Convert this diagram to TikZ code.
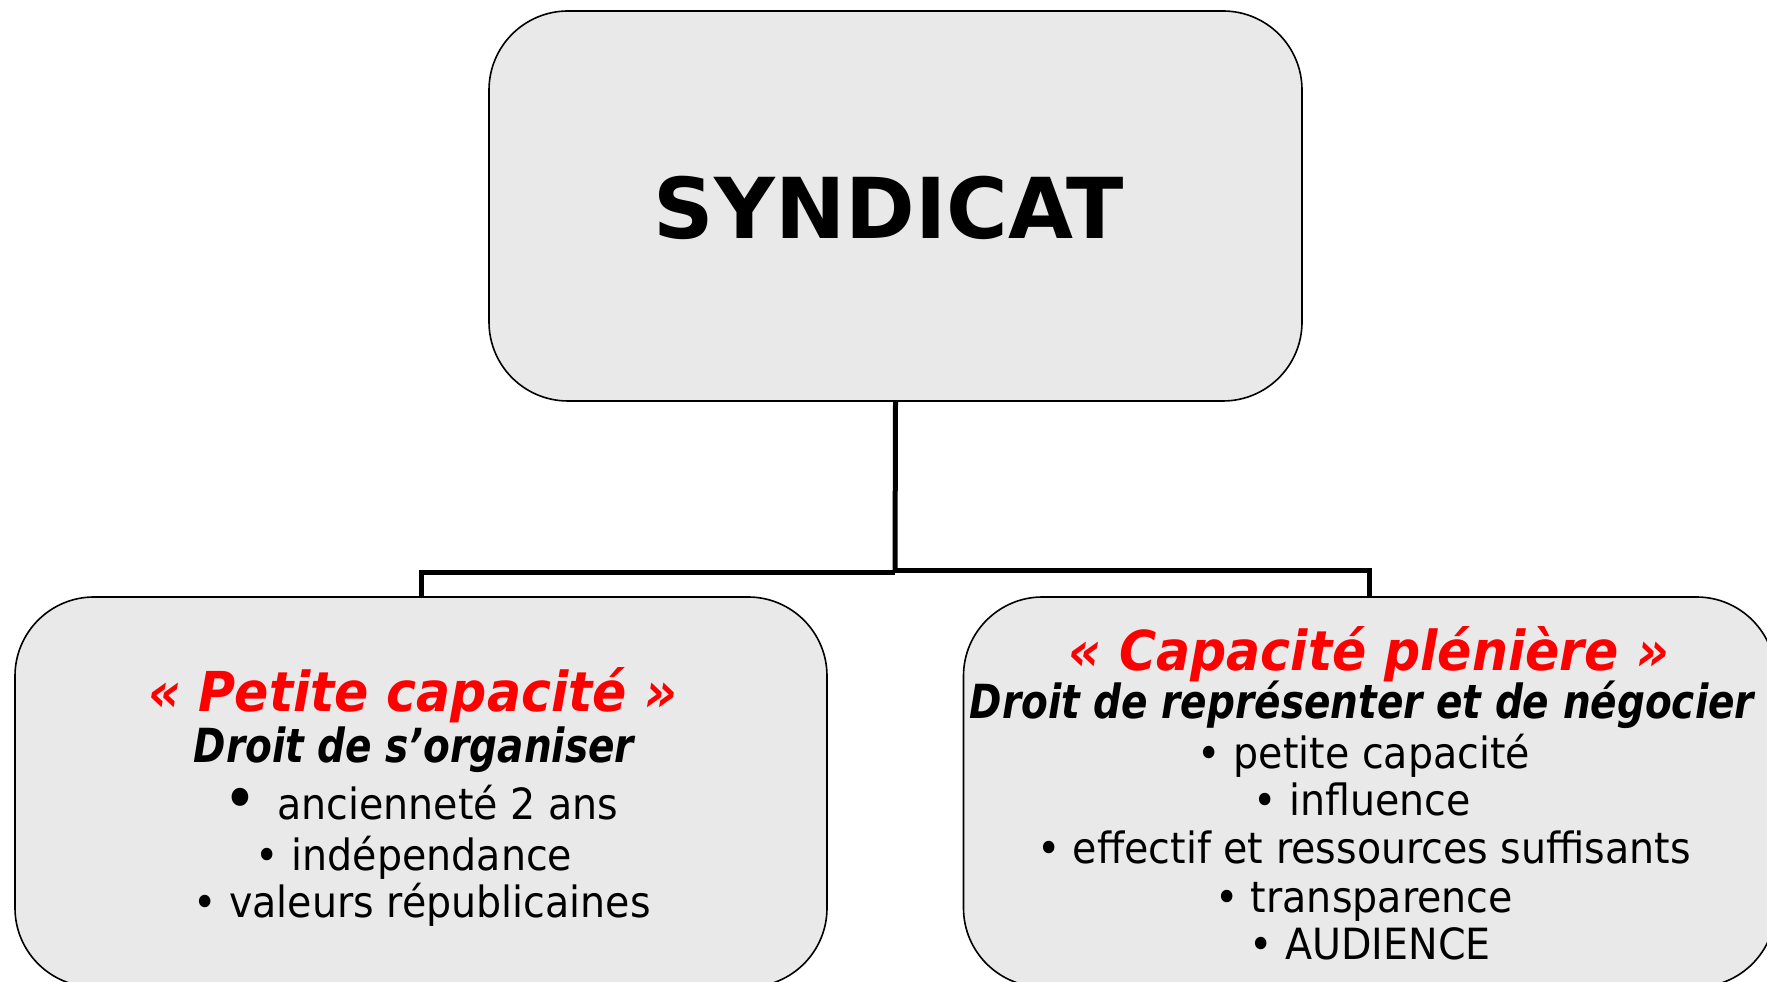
\documentclass[tikz,border=0pt]{standalone}
\usepackage{fontspec}
\setmainfont{DejaVu Sans}
\newfontfamily\bodyfont[FakeStretch=0.92]{DejaVu Sans}
\newfontfamily\subfont[FakeStretch=0.83]{DejaVu Sans}
\definecolor{boxgray}{RGB}{233,233,233}
\definecolor{titlered}{RGB}{255,0,0}
\begin{document}
\begin{tikzpicture}[x=1pt,y=1pt,
  boxstyle/.style={draw=black, line width=1.6pt, fill=boxgray, rounded corners=79pt,
    minimum width=812pt, minimum height=390pt, inner sep=0pt},
  conn/.style={draw=black, line width=5pt},
  redtitle/.style={anchor=base, inner sep=0pt, text=titlered, font=\bodyfont\fontsize{55}{60}\selectfont\bfseries\itshape},
  subtitle/.style={anchor=base, inner sep=0pt, font=\subfont\fontsize{47}{52}\selectfont\bfseries\itshape},
  item/.style={anchor=base, inner sep=0pt, font=\bodyfont\fontsize{43}{48}\selectfont}
]
\useasboundingbox (0,0) rectangle (1767,982);
\clip (0,0) rectangle (1767,982);
\node[boxstyle, minimum width=813pt] (top) at (895.5,776) {};
\node[anchor=base, inner sep=0pt, font=\fontsize{84}{90}\selectfont\bfseries] (toplabel) at (889,743) {SYNDICAT};
\node[boxstyle] (left) at (421,190) {};
\node[boxstyle] (right) at (1369.5,190) {};
\coordinate (jl) at (895,409);
\coordinate (jr) at (895,411);
\draw[conn] (top.south) -- (jl);
\draw[conn] (jl) -| (left.north);
\draw[conn] (jr) -| (right.north);
% left box text
\node[redtitle] (lt) at (413,270) {« Petite capacité »};
\node[subtitle] (ls) at (414,219) {Droit de s’organiser};
\node[item] (l1) at (421,162) {\raisebox{-1pt}{\scalebox{1.45}{•}}\, ancienneté 2 ans};
\node[item] (l2) at (414,111) {• indépendance};
\node[item] (l3) at (422,64) {• valeurs républicaines};
% right box text
\node[redtitle] (rt) at (1369,311) {« Capacité plénière »};
\node[subtitle] (rs) at (1362,263) {Droit de représenter et de négocier};
\node[item] (r1) at (1364,213) {• petite capacité};
\node[item] (r2) at (1362,166) {• influence};
\node[item] (r3) at (1364,118) {• effectif et ressources suffisants};
\node[item] (r4) at (1364,69) {• transparence};
\node[item] (r5) at (1370,22) {• AUDIENCE};
\end{tikzpicture}
\end{document}
